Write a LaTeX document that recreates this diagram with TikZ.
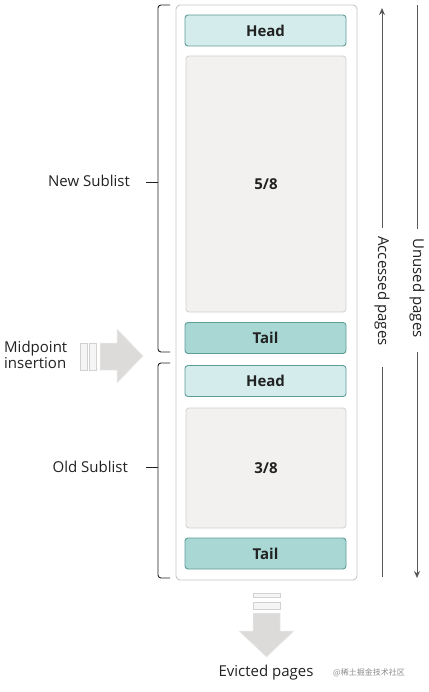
\documentclass[tikz,border=0pt]{standalone}
\usepackage{fontspec}
\setmainfont{Open Sans}
\newfontfamily\cjkfont{Noto Sans CJK SC}
\usetikzlibrary{arrows.meta}
\definecolor{headfill}{HTML}{D4ECEC}
\definecolor{tailfill}{HTML}{A9D8D4}
\definecolor{cellborder}{HTML}{5E9C98}
\definecolor{bodyfill}{HTML}{F2F1F0}
\definecolor{bodyborder}{HTML}{D2D0CE}
\definecolor{arrowfill}{HTML}{DCDBD9}
\definecolor{txt}{HTML}{222222}
\begin{document}
\begin{tikzpicture}[x=1pt,y=-1pt,
  cell/.style={draw=cellborder,line width=0.9pt,rounded corners=3pt,minimum width=161pt,inner sep=0pt,font=\bfseries\fontsize{15}{17}\selectfont,text=txt},
  headcell/.style={cell,fill=headfill,minimum height=31pt},
  tailcell/.style={cell,fill=tailfill,minimum height=31pt},
  bodycell/.style={draw=bodyborder,fill=bodyfill,line width=0.8pt,rounded corners=3pt,minimum width=160pt,inner sep=0pt,font=\bfseries\fontsize{15}{17}\selectfont,text=txt},
  lbl/.style={font=\fontsize{15}{17}\selectfont,text=txt,inner sep=0pt},
  bracket/.style={draw=txt,line width=0.9pt,rounded corners=3pt},
  side/.style={draw=black!65,line width=1pt},
  bigarrow/.style={fill=arrowfill,draw=black!8,line width=0.5pt},
  bar/.style={fill=black!4,draw=black!18,line width=0.8pt}]
\useasboundingbox (0,0) rectangle (428,692);
\fill[white] (0,0) rectangle (428,692);
% container
\node[draw=black!22,fill=white,rounded corners=4pt,line width=0.9pt,minimum width=181pt,minimum height=575pt,inner sep=0pt] (box) at (266.5,292.5) {};
\node[headcell] (h1) at (265.5,30.5) {Head};
\node[bodycell,minimum height=256pt] (b1) at (266,184) {5/8};
\node[tailcell] (t1) at (265.5,338) {Tail};
\node[headcell] (h2) at (265.5,381) {Head};
\node[bodycell,minimum height=120pt] (b2) at (266,468) {3/8};
\node[tailcell] (t2) at (265.5,553.5) {Tail};
% brackets
\coordinate (n1) at (170,5); \coordinate (n2) at (170,352);
\coordinate (nt) at (146,182);
\draw[bracket] (n1) -- (158,5) -- (158,352) -- (n2);
\draw[bracket] (nt) -- (158,182);
\coordinate (o1) at (170,363); \coordinate (o2) at (170,578);
\coordinate (ot) at (146,467);
\draw[bracket] (o1) -- (158,363) -- (158,578) -- (o2);
\draw[bracket] (ot) -- (158,467);
\node[lbl,anchor=east] (newl) at (130,181) {New Sublist};
\node[lbl,anchor=east] (oldl) at (128,467) {Old Sublist};
% midpoint insertion
\node[lbl,anchor=west,align=left,font=\fontsize{15}{16.5}\selectfont] (mid) at (4,355) {Midpoint\\insertion};
\draw[bar] (80,343) rectangle (87,370);
\draw[bar] (89,343) rectangle (96,370);
\draw[bigarrow] (100,343) -- (117,343) -- (117,329) -- (143,356) -- (117,383) -- (117,370) -- (100,370) -- cycle;
% right side arrows
\node[lbl,rotate=-90] (acc) at (382,291) {Accessed pages};
\node[lbl,rotate=-90] (unu) at (417,288) {Unused pages};
\coordinate (a0) at (382,228); \coordinate (a1) at (382,8);
\coordinate (a3) at (382,367); \coordinate (a2) at (382,577);
\coordinate (u0) at (417,229); \coordinate (u1) at (417,5);
\coordinate (u3) at (417,352); \coordinate (u2) at (417,578);
\draw[side,-{Stealth[length=7pt,width=6pt]}] (a0) -- (a1);
\draw[side] (a3) -- (a2);
\draw[side] (u0) -- (u1);
\draw[side,-{Stealth[length=7pt,width=6pt]}] (u3) -- (u2);
% evicted
\draw[bar] (253,593) rectangle (280,597);
\draw[bar] (253,602) rectangle (280,609);
\draw[bigarrow] (253,613) -- (280,613) -- (280,631) -- (294,631) -- (266.5,657) -- (239,631) -- (253,631) -- cycle;
\node[lbl] (ev) at (266,673) {Evicted pages};
\node[font=\cjkfont\fontsize{8}{9}\selectfont,text=black!45,inner sep=0pt,anchor=west] (wm) at (333,673) {@稀土掘金技术社区};
\end{tikzpicture}
\end{document}
